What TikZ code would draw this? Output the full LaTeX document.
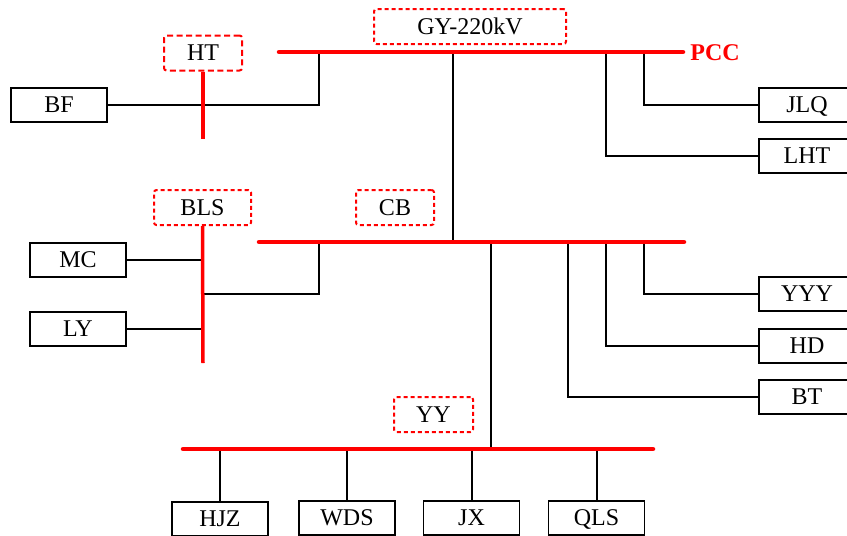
\documentclass[tikz,border=0pt]{standalone}
\usepackage{fontspec}
\setmainfont{Liberation Serif}
\begin{document}
\begin{tikzpicture}[x=1pt,y=-1pt,
  every node/.style={font=\fontsize{24}{28}\selectfont, inner sep=0pt, text height=15.5pt, text depth=0pt},
  load/.style={draw=black, line width=1.3pt, minimum width=96pt, minimum height=34pt},
  loadthick/.style={load, line width=2pt},
  tag/.style={draw=red, line width=2pt, dash pattern=on 4pt off 3pt, rounded corners=2.5pt, minimum height=35pt},
  bus/.style={draw=red, line width=4.5pt, line cap=round},
  feeder/.style={draw=black, line width=2pt},
  redline/.style={draw=red, line width=3.5pt}]
\useasboundingbox (0,0) rectangle (847,536);
% loads
\node[load] (BF) at (59,105) {BF};
\node[load] (JLQ) at (807,105) {JLQ};
\node[load] (LHT) at (807,156) {LHT};
\node[loadthick] (MC) at (78,259.5) {MC};
\node[loadthick] (LY) at (78,328.5) {LY};
\node[load] (YYY) at (807,294) {YYY};
\node[loadthick] (HD) at (807,346) {HD};
\node[load] (BT) at (807,397) {BT};
\node[load] (HJZ) at (220,519) {HJZ};
\node[loadthick] (WDS) at (347,518) {WDS};
\node[load] (JX) at (471.5,518) {JX};
\node[load] (QLS) at (596.5,518) {QLS};
% tags
\node[tag, minimum width=192pt] (GY) at (470,26.5) {GY-220kV};
\node[tag, minimum width=78pt, dash pattern=on 6pt off 3.5pt] (HT) at (203,53) {HT};
\node[tag, minimum width=97pt] (BLS) at (202.5,207.5) {BLS};
\node[tag, minimum width=78pt] (CB) at (395,207.5) {CB};
\node[tag, minimum width=79pt] (YY) at (433.5,414.5) {YY};
\node[text=red, font=\fontsize{24}{28}\selectfont\bfseries] (PCC) at (715,53) {PCC};
% bus coordinates
\coordinate (b1L) at (279,52);  \coordinate (b1R) at (683,52);
\coordinate (b2L) at (259,242); \coordinate (b2R) at (684,242);
\coordinate (b3L) at (183,449); \coordinate (b3R) at (653,449);
\coordinate (tBF) at (319,52);
\coordinate (tMid) at (453,52);
\coordinate (tLHT) at (606,52);
\coordinate (tJLQ) at (644,52);
\coordinate (mLeft) at (319,242);
\coordinate (mYY) at (491,242);
\coordinate (mBT) at (568,242);
\coordinate (mHD) at (606,242);
\coordinate (mYYY) at (644,242);
\coordinate (htEnd) at (203,139);
\coordinate (blsEnd) at (203,363);
\coordinate (blsJ) at (203,294);
\coordinate (bYY) at (491,449);
% feeders
\draw[feeder] (tBF) |- (BF.east);
\draw[feeder] (tMid) -- (tMid |- b2L);
\draw[feeder] (tJLQ) |- (JLQ.west);
\draw[feeder] (tLHT) |- (LHT.west);
\draw[feeder] (MC.east) -- (MC.east -| blsEnd);
\draw[feeder] (LY.east) -- (LY.east -| blsEnd);
\draw[feeder] (blsJ) -| (mLeft);
\draw[feeder] (mYYY) |- (YYY.west);
\draw[feeder] (mHD) |- (HD.west);
\draw[feeder] (mBT) |- (BT.west);
\draw[feeder] (mYY) -- (bYY);
\draw[feeder] (HJZ.north |- b3L) -- (HJZ.north);
\draw[feeder] (WDS.north |- b3L) -- (WDS.north);
\draw[feeder] (JX.north |- b3L) -- (JX.north);
\draw[feeder] (QLS.north |- b3L) -- (QLS.north);
% red lines
\draw[redline] (HT.south) -- (htEnd);
\draw[redline] (BLS.south) -- (blsEnd);
\draw[bus] (b1L) -- (b1R);
\draw[bus] (b2L) -- (b2R);
\draw[bus] (b3L) -- (b3R);
\end{tikzpicture}
\end{document}
